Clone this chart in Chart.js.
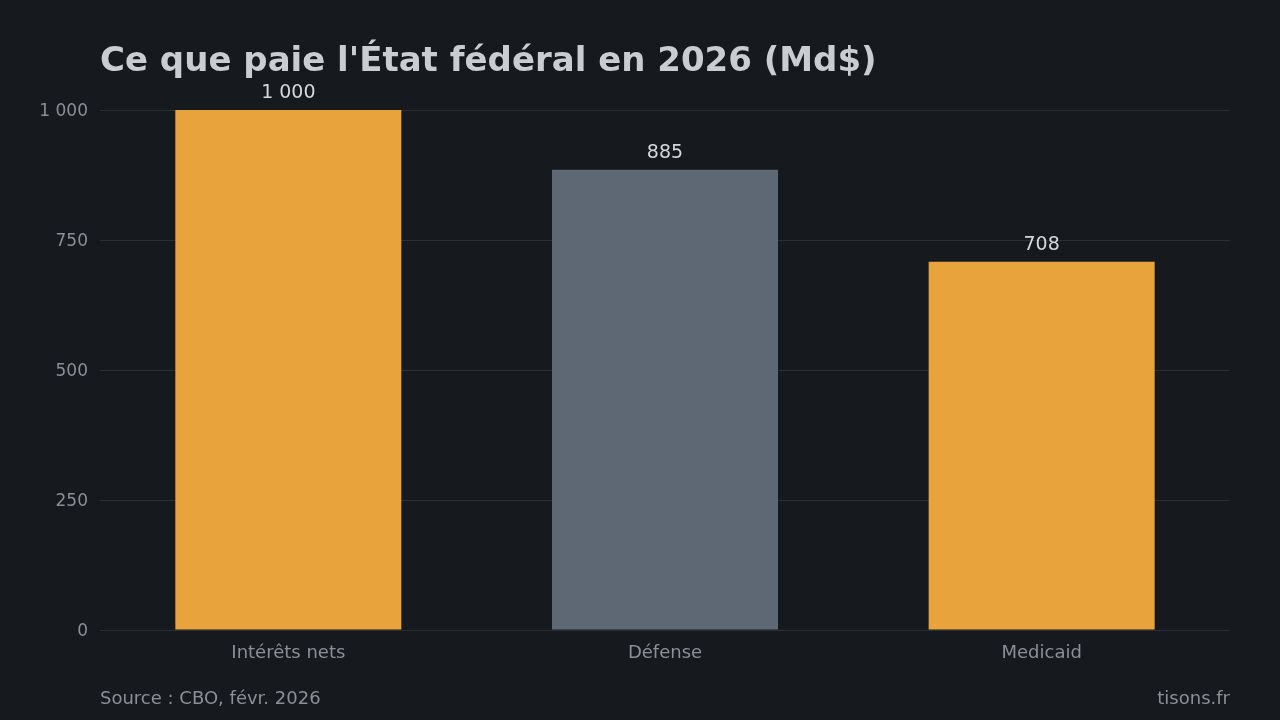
<!DOCTYPE html>
<html><head><meta charset="utf-8">
<script src="https://cdn.jsdelivr.net/npm/chart.js@4"></script>
<style>html,body{margin:0;padding:0;background:#16191e;}#w{width:1280px;height:720px;position:relative}</style>
</head><body><div id="w"><canvas id="c" width="1280" height="720"></canvas></div>
<script>
const categories = ["Intérêts nets", "Défense", "Medicaid"];
const values = [1000, 885, 708];
const barColors = ["#e8a33d", "#5d6874", "#e8a33d"];
const yTicks = [0, 250, 500, 750, 1000];
const titleText = "Ce que paie l'État fédéral en 2026 (Md$)";
const sourceText = "Source : CBO, févr. 2026";
const brandText = "tisons.fr";

const FONT = "'DejaVu Sans', sans-serif";
const fmt = v => String(v).replace(/\B(?=(\d{3})+(?!\d))/g, " ");

const overlay = {
  id: 'overlay',
  afterDatasetsDraw(chart) {
    const ctx = chart.ctx;
    const meta = chart.getDatasetMeta(0);
    ctx.save();
    ctx.fillStyle = '#d4d7dc';
    ctx.font = "19px " + FONT;
    ctx.textAlign = 'center';
    ctx.textBaseline = 'bottom';
    meta.data.forEach((bar, i) => {
      ctx.fillText(fmt(values[i]), bar.x, bar.y - 7);
    });
    ctx.restore();
  },
  afterDraw(chart) {
    const ctx = chart.ctx;
    ctx.save();
    ctx.fillStyle = '#c9ccd1';
    ctx.font = "bold 34px " + FONT;
    ctx.textAlign = 'left';
    ctx.textBaseline = 'alphabetic';
    ctx.fillText(titleText, 100, 71);
    ctx.fillStyle = '#8b8f96';
    ctx.font = "18px " + FONT;
    ctx.textBaseline = 'middle';
    ctx.fillText(sourceText, 100, 699);
    ctx.textAlign = 'right';
    ctx.fillText(brandText, 1230, 699);
    ctx.restore();
  }
};

new Chart(document.getElementById('c'), {
  type: 'bar',
  data: {
    labels: categories,
    datasets: [{ data: values, backgroundColor: barColors, borderWidth: 0, categoryPercentage: 0.6, barPercentage: 1.0 }]
  },
  options: {
    responsive: false,
    animation: false,
    devicePixelRatio: 1,
    layout: { padding: { top: 110, right: 50, left: 0, bottom: 0 } },
    plugins: { legend: { display: false }, tooltip: { enabled: false }, title: { display: false } },
    scales: {
      x: {
        grid: { display: false },
        border: { display: false },
        ticks: { color: '#8b8f96', font: { family: FONT, size: 18 }, padding: 5 },
        afterFit(s) { s.height = 90; }
      },
      y: {
        min: 0, max: 1000,
        afterBuildTicks(s) { s.ticks = yTicks.map(v => ({ value: v })); },
        grid: { color: '#2a2e35', drawTicks: false, lineWidth: 1 },
        border: { display: false },
        ticks: { color: '#8b8f96', font: { family: FONT, size: 17 }, padding: 12, labelOffset: 2, callback: v => fmt(v) },
        afterFit(s) { s.width = 100; }
      }
    }
  },
  plugins: [overlay]
});
</script></body></html>
